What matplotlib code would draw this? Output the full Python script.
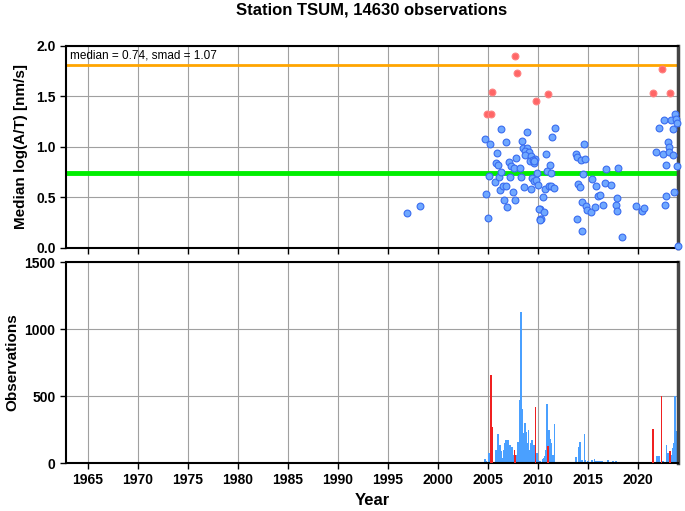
import matplotlib
matplotlib.use("Agg")
import matplotlib.pyplot as plt

plt.rcParams['font.family'] = ['Liberation Sans', 'DejaVu Sans']

station = "TSUM"
n_obs = 14630
median_val = 0.74
smad_val = 1.07

# median log(A/T) per period, normal points
blue_years = [1996.87, 1998.17, 2004.7, 2005.2, 2006.27, 2006.77, 2005.87, 2005.8, 2006.0,
              2005.13, 2004.8, 2005.03, 2005.7, 2006.07, 2006.33, 2006.17, 2006.53, 2006.83,
              2006.6, 2006.87, 2007.07, 2007.33, 2007.57, 2007.23, 2007.77, 2008.2, 2008.33,
              2007.53, 2007.7, 2008.43, 2008.87, 2008.53, 2008.9, 2008.67, 2009.1, 2008.73,
              2009.33, 2009.2, 2009.7, 2009.57, 2008.63, 2009.27, 2009.4, 2009.6, 2009.8,
              2009.87, 2010.0, 2010.2, 2010.2, 2009.47, 2009.63, 2010.53, 2010.13, 2010.6,
              2010.33, 2010.23, 2010.77, 2011.4, 2011.67, 2010.87, 2011.17, 2011.27, 2010.7,
              2011.07, 2011.3, 2011.6, 2013.77, 2013.9, 2014.27, 2014.73, 2014.6, 2014.03,
              2014.2, 2014.53, 2014.43, 2014.8, 2014.9, 2013.93, 2014.37, 2015.37, 2015.33,
              2015.67, 2015.83, 2016.0, 2016.17, 2016.5, 2016.67, 2016.83, 2017.33, 2017.8,
              2017.93, 2017.87, 2018.03, 2018.37, 2019.8, 2020.37, 2020.63, 2021.83, 2022.53,
              2022.83, 2022.97, 2023.1, 2023.07, 2023.53, 2022.1, 2022.57, 2023.3, 2023.47,
              2023.67, 2023.8, 2023.9, 2023.93, 2022.7, 2022.8, 2023.6, 2024.0]
blue_vals = [0.35, 0.42, 1.08, 1.03, 1.18, 1.05, 0.94, 0.84, 0.825,
             0.71, 0.53, 0.30, 0.65, 0.70, 0.75, 0.57, 0.61, 0.61,
             0.48, 0.41, 0.85, 0.81, 0.79, 0.70, 0.89, 0.795, 0.70,
             0.55, 0.475, 1.06, 1.15, 0.99, 0.99, 0.96, 0.95, 0.92,
             0.91, 0.865, 0.88, 0.845, 0.60, 0.58, 0.69, 0.665, 0.67,
             0.74, 0.62, 0.39, 0.29, 0.87, 0.86, 0.50, 0.39, 0.36,
             0.29, 0.28, 0.93, 1.10, 1.19, 0.76, 0.825, 0.74, 0.58,
             0.61, 0.61, 0.59, 0.93, 0.90, 0.87, 0.88, 1.03, 0.63,
             0.60, 0.735, 0.455, 0.42, 0.38, 0.29, 0.17, 0.68, 0.36,
             0.41, 0.61, 0.51, 0.52, 0.43, 0.64, 0.78, 0.62, 0.43,
             0.49, 0.37, 0.795, 0.11, 0.42, 0.37, 0.40, 0.955, 0.93,
             0.82, 1.05, 1.00, 0.95, 0.92, 1.19, 1.27, 1.27, 1.18,
             1.33, 1.28, 1.24, 0.81, 0.43, 0.515, 0.555, 0.02]

# outliers (above median + smad)
red_years = [2007.7, 2007.87, 2005.4, 2009.77, 2004.87, 2005.3, 2011.0, 2022.37, 2021.5, 2023.2]
red_vals = [1.90, 1.73, 1.545, 1.46, 1.33, 1.33, 1.52, 1.77, 1.53, 1.53]

# observation counts per month
obs_years = [1996.87, 1998.2, 2004.7, 2004.85, 2005.1, 2005.2, 2005.8, 2005.9, 2006.0, 2006.1,
             2006.2, 2006.3, 2006.5, 2006.6, 2006.7, 2006.8, 2006.9, 2007.0, 2007.1, 2007.2,
             2007.3, 2007.4, 2007.5, 2007.9, 2008.0, 2008.1, 2008.2, 2008.3, 2008.4, 2008.5,
             2008.6, 2008.7, 2008.8, 2008.9, 2008.97, 2009.05, 2009.2, 2009.3, 2009.37, 2009.45,
             2009.6, 2009.7, 2009.87, 2010.0, 2010.2, 2010.3, 2010.5, 2010.6, 2010.7, 2010.8,
             2010.87, 2010.93, 2011.1, 2011.2, 2011.27, 2011.4, 2011.5, 2011.63, 2013.77, 2013.85,
             2014.03, 2014.1, 2014.2, 2014.37, 2014.5, 2014.63, 2014.7, 2015.0, 2015.37, 2015.5,
             2015.63, 2015.8, 2016.0, 2016.2, 2016.4, 2016.7, 2017.0, 2017.3, 2017.5, 2017.8,
             2018.0, 2018.4, 2019.8, 2020.3, 2020.6, 2021.87, 2022.1, 2022.5, 2022.83, 2022.97,
             2023.1, 2023.3, 2023.47, 2023.57, 2023.67, 2023.75, 2023.8, 2023.9]
obs_counts = [5, 4, 30, 15, 75, 40, 100, 60, 216, 80,
              137, 90, 40, 100, 150, 170, 140, 174, 120, 137,
              100, 120, 60, 60, 160, 100, 472, 1126, 400, 225,
              150, 298, 230, 150, 120, 248, 100, 150, 174, 112,
              137, 100, 75, 20, 12, 10, 29, 40, 50, 100,
              442, 298, 248, 180, 149, 62, 60, 293, 42, 30,
              119, 80, 154, 20, 10, 219, 20, 12, 20, 8,
              30, 15, 17, 15, 12, 10, 25, 10, 15, 12,
              8, 5, 6, 5, 5, 50, 55, 12, 137, 75,
              30, 60, 112, 150, 500, 350, 236, 100]

red_obs_years = [2005.3, 2005.4, 2007.67, 2007.75, 2009.77, 2011.0, 2021.5, 2022.33, 2023.2]
red_obs_counts = [654, 268, 100, 60, 418, 130, 256, 500, 87]

xticks = list(range(1965, 2021, 5))

fig = plt.figure(figsize=(6.85, 5.11), dpi=100)
ax1 = fig.add_axes([0.0964, 0.5147, 0.8934, 0.3953])
ax2 = fig.add_axes([0.0964, 0.0939, 0.8934, 0.3933])

for ax in (ax1, ax2):
    ax.set_xlim(1962.8, 2024.0)
    ax.set_xticks(xticks)
    ax.grid(True, color='#a0a0a0', linewidth=0.8)
    ax.set_axisbelow(True)
    for sp in ax.spines.values():
        sp.set_linewidth(1.5)
    ax.spines['right'].set_color('#444444')
    ax.spines['right'].set_linewidth(2.5)
    ax.tick_params(direction='out', length=4, width=1, labelsize=10)

# top panel
ax1.axhline(median_val + smad_val, color='#ffa500', linewidth=2, zorder=2)
ax1.axhline(median_val, color='#00ee00', linewidth=3.5, zorder=2)
ax1.scatter(blue_years, blue_vals, s=24, facecolor='#6fa8ff', edgecolor='#3a6cf0',
            linewidth=0.8, zorder=3, clip_on=False)
ax1.scatter(red_years, red_vals, s=24, facecolor='#ff6666', edgecolor='#ff8080',
            linewidth=0.8, zorder=3)
ax1.set_ylim(0, 2.0)
ax1.set_yticks([0.0, 0.5, 1.0, 1.5, 2.0])
ax1.set_yticklabels(['0.0', '0.5', '1.0', '1.5', '2.0'], fontweight='bold')
ax1.set_xticklabels([])
ax1.set_ylabel('Median log(A/T) [nm/s]', fontsize=11, fontweight='bold', labelpad=6)
ax1.text(0.007, 0.985, 'median = %.2f, smad = %.2f' % (median_val, smad_val),
         transform=ax1.transAxes, ha='left', va='top', fontsize=8.5)
ax1.set_title('Station %s, %d observations' % (station, n_obs),
              fontsize=12, fontweight='bold', pad=23)

# bottom panel
ax2.bar(obs_years, obs_counts, width=0.16, color='#4aa0ff', linewidth=0, zorder=2)
ax2.bar(red_obs_years, red_obs_counts, width=0.14, color='#f02020', linewidth=0, zorder=3)
ax2.set_ylim(0, 1500)
ax2.set_yticks([0, 500, 1000, 1500])
ax2.set_yticklabels(['0', '500', '1000', '1500'], fontweight='bold')
ax2.set_xticklabels([str(y) for y in xticks], fontweight='bold')
ax2.set_ylabel('Observations', fontsize=11, fontweight='bold')
ax2.set_xlabel('Year', fontsize=12, fontweight='bold', labelpad=4)

fig.savefig('out.png', dpi=100)
